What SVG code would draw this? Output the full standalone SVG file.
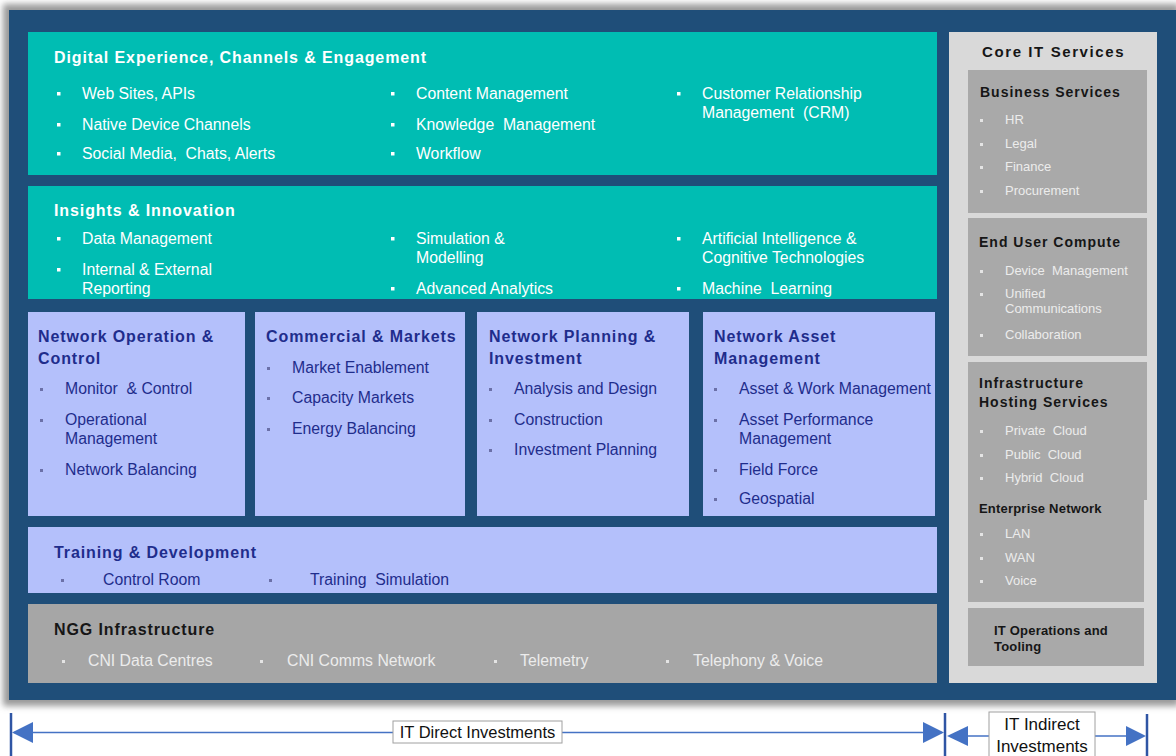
<svg xmlns="http://www.w3.org/2000/svg" xmlns:xlink="http://www.w3.org/1999/xlink" width="1176" height="756" viewBox="0 0 1176 756">
<style>
text{font-family:"Liberation Sans",Arial,sans-serif;white-space:pre}
.h{font-weight:bold;font-size:16px;letter-spacing:0.9px}
.hs{font-weight:bold;font-size:14px;letter-spacing:1px}
.hx{font-weight:bold;font-size:13px;letter-spacing:0.2px}
.i{font-size:15.8px}
.s{font-size:13px}
.w{fill:#FFFFFF}
.nv{fill:#1F2D8C}
.dk{fill:#161616}
.lg{fill:#ECECEC}
.bw{fill:#FFFFFF}
.bn{fill:#6B70A8}
.bg{fill:#E4E4E4}
.teal{fill:#00BDB3}
.lil{fill:#B4C0FB}
.gry{fill:#A6A6A6}
.gb{fill:#A9A9A9}
.arr{stroke:#4472C4;stroke-width:1.5;fill:none}
.bar{stroke:#2F55A4;stroke-width:2.5}
.ah{fill:#4472C4}
.lbl{font-size:16.5px;fill:#111}
</style>
<defs>
<rect id="b" width="3.5" height="3.5"/>
<rect id="bs" width="3" height="3"/>
<filter id="sh" x="-5%" y="-5%" width="110%" height="110%"><feGaussianBlur stdDeviation="3"/></filter>
</defs>
<rect width="1176" height="756" fill="#FFFFFF"/>
<rect x="3" y="4" width="1176" height="702" fill="#9A9A9A" filter="url(#sh)"/>
<rect x="9" y="10" width="1167" height="690" fill="#1F4E79"/>

<g id="digital">
<rect class="teal" x="28" y="32" width="909" height="143"/>
<text class="h w" x="54" y="63">Digital Experience, Channels &amp; Engagement</text>
<use href="#b" class="bw" x="57" y="92"/><text class="i w" x="82" y="99">Web Sites, APIs</text>
<use href="#b" class="bw" x="57" y="123"/><text class="i w" x="82" y="130">Native Device Channels</text>
<use href="#b" class="bw" x="57" y="152"/><text class="i w" x="82" y="159">Social Media,  Chats, Alerts</text>
<use href="#b" class="bw" x="391" y="92"/><text class="i w" x="416" y="99">Content Management</text>
<use href="#b" class="bw" x="391" y="123"/><text class="i w" x="416" y="130">Knowledge  Management</text>
<use href="#b" class="bw" x="391" y="152"/><text class="i w" x="416" y="159">Workflow</text>
<use href="#b" class="bw" x="677" y="92"/><text class="i w" x="702" y="99">Customer Relationship</text>
<text class="i w" x="702" y="118">Management  (CRM)</text>
</g>

<g id="insights">
<rect class="teal" x="28" y="186" width="909" height="113"/>
<text class="h w" x="54" y="216">Insights &amp; Innovation</text>
<use href="#b" class="bw" x="57" y="237"/><text class="i w" x="82" y="244">Data Management</text>
<use href="#b" class="bw" x="57" y="268"/><text class="i w" x="82" y="275">Internal &amp; External</text>
<text class="i w" x="82" y="294">Reporting</text>
<use href="#b" class="bw" x="391" y="237"/><text class="i w" x="416" y="244">Simulation &amp;</text>
<text class="i w" x="416" y="263">Modelling</text>
<use href="#b" class="bw" x="391" y="287"/><text class="i w" x="416" y="294">Advanced Analytics</text>
<use href="#b" class="bw" x="677" y="237"/><text class="i w" x="702" y="244">Artificial Intelligence &amp;</text>
<text class="i w" x="702" y="263">Cognitive Technologies</text>
<use href="#b" class="bw" x="677" y="287"/><text class="i w" x="702" y="294">Machine  Learning</text>
</g>

<g id="netop">
<rect class="lil" x="28" y="312" width="217" height="204"/>
<text class="h nv" x="38" y="342">Network Operation &amp;</text>
<text class="h nv" x="38" y="364">Control</text>
<use href="#bs" class="bn" x="40" y="388"/><text class="i nv" x="65" y="394">Monitor  &amp; Control</text>
<use href="#bs" class="bn" x="40" y="419"/><text class="i nv" x="65" y="425">Operational</text>
<text class="i nv" x="65" y="444">Management</text>
<use href="#bs" class="bn" x="40" y="469"/><text class="i nv" x="65" y="475">Network Balancing</text>
</g>

<g id="commercial">
<rect class="lil" x="255" y="312" width="210" height="204"/>
<text class="h nv" x="266" y="342">Commercial &amp; Markets</text>
<use href="#bs" class="bn" x="267" y="367"/><text class="i nv" x="292" y="373">Market Enablement</text>
<use href="#bs" class="bn" x="267" y="397"/><text class="i nv" x="292" y="403">Capacity Markets</text>
<use href="#bs" class="bn" x="267" y="428"/><text class="i nv" x="292" y="434">Energy Balancing</text>
</g>

<g id="netplan">
<rect class="lil" x="477" y="312" width="212" height="204"/>
<text class="h nv" x="489" y="342">Network Planning &amp;</text>
<text class="h nv" x="489" y="364">Investment</text>
<use href="#bs" class="bn" x="489" y="388"/><text class="i nv" x="514" y="394">Analysis and Design</text>
<use href="#bs" class="bn" x="489" y="419"/><text class="i nv" x="514" y="425">Construction</text>
<use href="#bs" class="bn" x="489" y="449"/><text class="i nv" x="514" y="455">Investment Planning</text>
</g>

<g id="netasset">
<rect class="lil" x="703" y="312" width="232" height="204"/>
<text class="h nv" x="714" y="342">Network Asset</text>
<text class="h nv" x="714" y="364">Management</text>
<use href="#bs" class="bn" x="714" y="388"/><text class="i nv" x="739" y="394">Asset &amp; Work Management</text>
<use href="#bs" class="bn" x="714" y="419"/><text class="i nv" x="739" y="425">Asset Performance</text>
<text class="i nv" x="739" y="444">Management</text>
<use href="#bs" class="bn" x="714" y="469"/><text class="i nv" x="739" y="475">Field Force</text>
<use href="#bs" class="bn" x="714" y="498"/><text class="i nv" x="739" y="504">Geospatial</text>
</g>

<g id="training">
<rect class="lil" x="28" y="527" width="909" height="66"/>
<text class="h nv" x="54" y="558">Training &amp; Development</text>
<use href="#bs" class="bn" x="61" y="579"/><text class="i nv" x="103" y="585">Control Room</text>
<use href="#bs" class="bn" x="269" y="579"/><text class="i nv" x="310" y="585">Training  Simulation</text>
</g>

<g id="ngg">
<rect class="gry" x="28" y="604" width="909" height="79"/>
<text class="h dk" x="54" y="635">NGG Infrastructure</text>
<use href="#bs" class="bg" x="62" y="660"/><text class="i lg" x="88" y="666">CNI Data Centres</text>
<use href="#bs" class="bg" x="260" y="660"/><text class="i lg" x="287" y="666">CNI Comms Network</text>
<use href="#bs" class="bg" x="494" y="660"/><text class="i lg" x="520" y="666">Telemetry</text>
<use href="#bs" class="bg" x="666" y="660"/><text class="i lg" x="693" y="666">Telephony &amp; Voice</text>
</g>

<g id="coreit">
<rect x="949" y="32" width="208" height="651" fill="#D9D9D9"/>
<text class="dk" x="982" y="57" style="font-weight:bold;font-size:15px;letter-spacing:1.6px">Core IT Services</text>
</g>

<g id="business">
<rect class="gb" x="968" y="70" width="179" height="143"/>
<text class="hs dk" x="980" y="97">Business Services</text>
<use href="#bs" class="bg" x="980" y="119"/><text class="s lg" x="1005" y="124">HR</text>
<use href="#bs" class="bg" x="980" y="143"/><text class="s lg" x="1005" y="148">Legal</text>
<use href="#bs" class="bg" x="980" y="166"/><text class="s lg" x="1005" y="171">Finance</text>
<use href="#bs" class="bg" x="980" y="190"/><text class="s lg" x="1005" y="195">Procurement</text>
</g>

<g id="euc">
<rect class="gb" x="968" y="218" width="179" height="138"/>
<text class="hs dk" x="979" y="247">End User Compute</text>
<use href="#bs" class="bg" x="980" y="270"/><text class="s lg" x="1005" y="275">Device  Management</text>
<use href="#bs" class="bg" x="980" y="293"/><text class="s lg" x="1005" y="298">Unified</text>
<text class="s lg" x="1005" y="313">Communications</text>
<use href="#bs" class="bg" x="980" y="334"/><text class="s lg" x="1005" y="339">Collaboration</text>
</g>

<g id="infra">
<path class="gb" d="M968 362H1147V500H1144V602H968Z"/>
<text class="hs dk" x="979" y="388">Infrastructure</text>
<text class="hs dk" x="979" y="407">Hosting Services</text>
<use href="#bs" class="bg" x="980" y="430"/><text class="s lg" x="1005" y="435">Private  Cloud</text>
<use href="#bs" class="bg" x="980" y="454"/><text class="s lg" x="1005" y="459">Public  Cloud</text>
<use href="#bs" class="bg" x="980" y="477"/><text class="s lg" x="1005" y="482">Hybrid  Cloud</text>
<text class="hx dk" x="979" y="513">Enterprise Network</text>
<use href="#bs" class="bg" x="980" y="533"/><text class="s lg" x="1005" y="538">LAN</text>
<use href="#bs" class="bg" x="980" y="557"/><text class="s lg" x="1005" y="562">WAN</text>
<use href="#bs" class="bg" x="980" y="580"/><text class="s lg" x="1005" y="585">Voice</text>
</g>

<g id="itops">
<rect class="gb" x="968" y="608" width="176" height="58"/>
<text class="hx dk" x="994" y="635">IT Operations and</text>
<text class="hx dk" x="994" y="651">Tooling</text>
</g>

<g id="connectors">
<line class="bar" x1="11" y1="713" x2="11" y2="756"/>
<line class="bar" x1="945" y1="713" x2="945" y2="756"/>
<line class="bar" x1="1147" y1="714" x2="1147" y2="756"/>
<line class="arr" x1="14" y1="732.5" x2="942" y2="732.5"/>
<polygon class="ah" points="12,732.5 33,722 33,743"/>
<polygon class="ah" points="944,732.5 923,722 923,743"/>
<line class="arr" x1="949" y1="736" x2="1144" y2="736"/>
<polygon class="ah" points="947,736 968,726 968,746"/>
<polygon class="ah" points="1146,736 1126,726 1126,746"/>
</g>

<g id="direct-label">
<rect x="393" y="721" width="169" height="22" fill="#FFFFFF" stroke="#A0A0A0" stroke-width="1"/>
<text class="lbl" x="477.5" y="738" text-anchor="middle">IT Direct Investments</text>
</g>
<g id="indirect-label">
<rect x="989" y="712" width="106" height="50" fill="#FFFFFF" stroke="#A0A0A0" stroke-width="1"/>
<text class="lbl" x="1042" y="730" text-anchor="middle" style="font-size:17px">IT Indirect</text>
<text class="lbl" x="1042" y="752" text-anchor="middle" style="font-size:17px">Investments</text>
</g>
</svg>
